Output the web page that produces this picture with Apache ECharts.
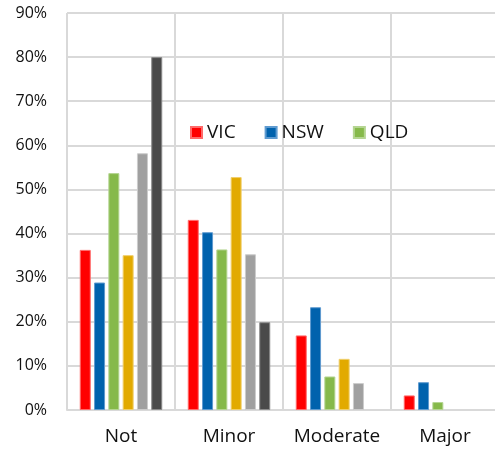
<!DOCTYPE html>
<html>
<head>
<meta charset="utf-8">
<script src="https://cdn.jsdelivr.net/npm/echarts@6/dist/echarts.min.js"></script>
<style>html,body{margin:0;padding:0;background:#fff;overflow:hidden}#c{width:495px;height:449px}</style>
</head>
<body>
<div id="c"></div>
<script>
var categories = ['Not', 'Minor', 'Moderate', 'Major'];
var yTicks = ['0%','10%','20%','30%','40%','50%','60%','70%','80%','90%'];
var vic = [36.3, 43.1, 16.9, 3.3];
var nsw = [28.9, 40.3, 23.3, 6.3];
var qld = [53.7, 36.4, 7.6, 1.8];
var series4 = [35.1, 52.8, 11.6, null];
var series5 = [58.2, 35.3, 6.1, null];
var series6 = [80.0, 19.9, null, null];
var names = ['VIC', 'NSW', 'QLD', 'Series 4', 'Series 5', 'Series 6'];
var colors = ['#ff0000', '#0062ad', '#86b94a', '#e2aa00', '#a0a0a0', '#4a4a4a'];
var edge = ['#ff6a6a', '#5f9bd0', '#b5d592', '#f0cf6a', '#cccccc', '#8a8a8a'];
var values = [vic, nsw, qld, series4, series5, series6];

var font = '"Open Sans", "Noto Sans", sans-serif';
var chart = echarts.init(document.getElementById('c'), null, {renderer: 'canvas'});
chart.setOption({
  animation: false,
  textStyle: {fontFamily: font},
  legend: {
    data: ['VIC', 'NSW', 'QLD'],
    left: 185, top: 118,
    itemWidth: 11, itemHeight: 11, itemGap: 29,
    icon: 'rect',
    textStyle: {fontSize: 19, color: '#111', fontFamily: font}
  },
  grid: {left: 67, width: 432, top: 13, bottom: 39, containLabel: false, outerBoundsMode: 'none'},
  xAxis: {
    type: 'category',
    data: categories,
    axisLine: {lineStyle: {color: '#d9d9d9', width: 2}},
    axisTick: {show: false, interval: 0},
    splitLine: {show: true, interval: 0, lineStyle: {color: '#d9d9d9', width: 2}},
    axisLabel: {fontSize: 19, color: '#111', margin: 17, fontFamily: font, interval: 0, hideOverlap: false}
  },
  yAxis: {
    type: 'value',
    min: 0, max: 90, interval: 10,
    axisLine: {show: false},
    axisTick: {show: false},
    splitLine: {lineStyle: {color: '#d9d9d9', width: 2}},
    axisLabel: {
      fontSize: 16, color: '#111', margin: 20, fontFamily: font,
      formatter: function (v) { return yTicks[Math.round(v / 10)]; }
    }
  },
  series: values.map(function (d, i) {
    return {
      name: names[i],
      type: 'bar',
      data: d,
      barWidth: 11,
      barGap: '30%',
      itemStyle: {color: colors[i], borderColor: edge[i], borderWidth: 1}
    };
  })
});
</script>
</body>
</html>
